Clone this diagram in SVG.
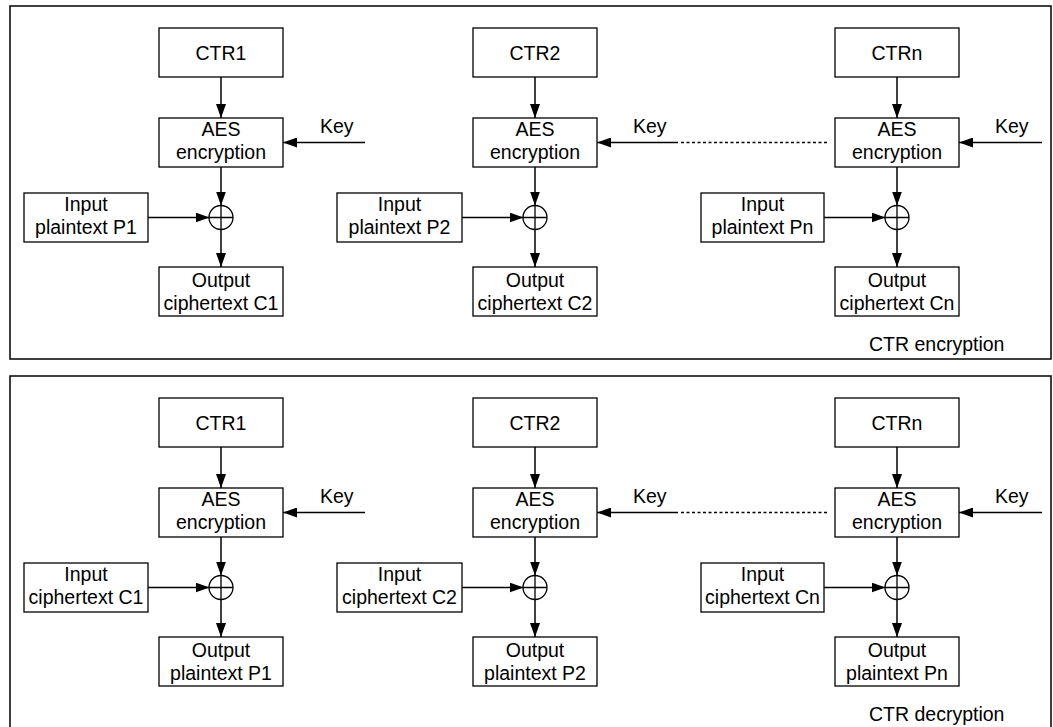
<svg xmlns="http://www.w3.org/2000/svg" width="1053" height="727" viewBox="0 0 1053 727">
  <style>
    .frame { fill: none; stroke: #000; stroke-width: 1.5; }
    .box { fill: #fff; stroke: #000; stroke-width: 1.3; }
    .xor { fill: none; stroke: #000; stroke-width: 1.3; }
    .lbl { font-family: "Liberation Sans", Arial, sans-serif; font-size: 19.5px; fill: #000; text-anchor: middle; }
    .cap { font-family: "Liberation Sans", Arial, sans-serif; font-size: 19.5px; fill: #000; }
    .wire { fill: none; stroke: #000; stroke-width: 1.5; }
    .arrow { marker-end: url(#head); }
    .dots { fill: none; stroke: #000; stroke-width: 1.5; stroke-dasharray: 3 2.5; }
  </style>
  <defs>
    <marker id="head" markerUnits="userSpaceOnUse" markerWidth="14" markerHeight="10" refX="14" refY="5" orient="auto">
      <path d="M0,0 L14,5 L0,10 z" fill="#000"/>
    </marker>
  </defs>
  <rect width="1053" height="727" fill="#fff"/>

  <!-- ===== Encryption panel ===== -->
  <g id="enc-panel">
    <rect class="frame" x="10" y="6" width="1041" height="353"/>
    <text class="cap" x="869" y="351">CTR encryption</text>
  </g>

  <g id="enc-connectors">
    <!-- column 1 -->
    <line class="wire arrow" x1="221" y1="77" x2="221" y2="118"/>
    <line class="wire arrow" x1="221" y1="167" x2="221" y2="205.5"/>
    <line class="wire arrow" x1="148" y1="217.5" x2="209.5" y2="217.5"/>
    <line class="wire arrow" x1="221" y1="229.5" x2="221" y2="267"/>
    <line class="wire arrow" x1="365" y1="142.5" x2="283" y2="142.5"/>
    <text class="cap" x="320" y="133">Key</text>
    <!-- column 2 -->
    <line class="wire arrow" x1="535" y1="77" x2="535" y2="118"/>
    <line class="wire arrow" x1="535" y1="167" x2="535" y2="205.5"/>
    <line class="wire arrow" x1="462" y1="217.5" x2="523.5" y2="217.5"/>
    <line class="wire arrow" x1="535" y1="229.5" x2="535" y2="267"/>
    <line class="wire arrow" x1="678" y1="142.5" x2="597" y2="142.5"/>
    <line class="dots" x1="681" y1="142.5" x2="829" y2="142.5"/>
    <text class="cap" x="633" y="133">Key</text>
    <!-- column n -->
    <line class="wire arrow" x1="897" y1="77" x2="897" y2="118"/>
    <line class="wire arrow" x1="897" y1="167" x2="897" y2="205.5"/>
    <line class="wire arrow" x1="824" y1="217.5" x2="885.5" y2="217.5"/>
    <line class="wire arrow" x1="897" y1="229.5" x2="897" y2="267"/>
    <line class="wire arrow" x1="1042" y1="142.5" x2="959" y2="142.5"/>
    <text class="cap" x="995" y="133">Key</text>
  </g>

  <g id="enc-ctr1"><rect class="box" x="159" y="28" width="124" height="49"/><text class="lbl" x="221" y="59.5">CTR1</text></g>
  <g id="enc-aes1"><rect class="box" x="159" y="118" width="124" height="49"/><text class="lbl" x="221" y="136">AES</text><text class="lbl" x="221" y="159">encryption</text></g>
  <g id="enc-in1"><rect class="box" x="24" y="193" width="124" height="49"/><text class="lbl" x="86" y="211">Input</text><text class="lbl" x="86" y="234">plaintext P1</text></g>
  <g id="enc-xor1"><circle class="xor" cx="221" cy="217.5" r="12"/><path class="xor" d="M209,217.5 H233 M221,205.5 V229.5"/></g>
  <g id="enc-out1"><rect class="box" x="159" y="267" width="124" height="49"/><text class="lbl" x="221" y="287">Output</text><text class="lbl" x="221" y="310">ciphertext C1</text></g>

  <g id="enc-ctr2"><rect class="box" x="473" y="28" width="124" height="49"/><text class="lbl" x="535" y="59.5">CTR2</text></g>
  <g id="enc-aes2"><rect class="box" x="473" y="118" width="124" height="49"/><text class="lbl" x="535" y="136">AES</text><text class="lbl" x="535" y="159">encryption</text></g>
  <g id="enc-in2"><rect class="box" x="337" y="193" width="125" height="49"/><text class="lbl" x="399.5" y="211">Input</text><text class="lbl" x="399.5" y="234">plaintext P2</text></g>
  <g id="enc-xor2"><circle class="xor" cx="535" cy="217.5" r="12"/><path class="xor" d="M523,217.5 H547 M535,205.5 V229.5"/></g>
  <g id="enc-out2"><rect class="box" x="473" y="267" width="124" height="49"/><text class="lbl" x="535" y="287">Output</text><text class="lbl" x="535" y="310">ciphertext C2</text></g>

  <g id="enc-ctrn"><rect class="box" x="835" y="28" width="124" height="49"/><text class="lbl" x="897" y="59.5">CTRn</text></g>
  <g id="enc-aesn"><rect class="box" x="835" y="118" width="124" height="49"/><text class="lbl" x="897" y="136">AES</text><text class="lbl" x="897" y="159">encryption</text></g>
  <g id="enc-inn"><rect class="box" x="701" y="193" width="123" height="49"/><text class="lbl" x="762.5" y="211">Input</text><text class="lbl" x="762.5" y="234">plaintext Pn</text></g>
  <g id="enc-xorn"><circle class="xor" cx="897" cy="217.5" r="12"/><path class="xor" d="M885,217.5 H909 M897,205.5 V229.5"/></g>
  <g id="enc-outn"><rect class="box" x="835" y="267" width="124" height="49"/><text class="lbl" x="897" y="287">Output</text><text class="lbl" x="897" y="310">ciphertext Cn</text></g>

  <!-- ===== Decryption panel (same layout, shifted down) ===== -->
  <g transform="translate(0,370)">
    <g id="dec-panel">
      <rect class="frame" x="10" y="6" width="1041" height="400"/>
      <text class="cap" x="869" y="351">CTR decryption</text>
    </g>

    <g id="dec-connectors">
      <line class="wire arrow" x1="221" y1="77" x2="221" y2="118"/>
      <line class="wire arrow" x1="221" y1="167" x2="221" y2="205.5"/>
      <line class="wire arrow" x1="148" y1="217.5" x2="209.5" y2="217.5"/>
      <line class="wire arrow" x1="221" y1="229.5" x2="221" y2="267"/>
      <line class="wire arrow" x1="365" y1="142.5" x2="283" y2="142.5"/>
      <text class="cap" x="320" y="133">Key</text>
      <line class="wire arrow" x1="535" y1="77" x2="535" y2="118"/>
      <line class="wire arrow" x1="535" y1="167" x2="535" y2="205.5"/>
      <line class="wire arrow" x1="462" y1="217.5" x2="523.5" y2="217.5"/>
      <line class="wire arrow" x1="535" y1="229.5" x2="535" y2="267"/>
      <line class="wire arrow" x1="678" y1="142.5" x2="597" y2="142.5"/>
      <line class="dots" x1="681" y1="142.5" x2="829" y2="142.5"/>
      <text class="cap" x="633" y="133">Key</text>
      <line class="wire arrow" x1="897" y1="77" x2="897" y2="118"/>
      <line class="wire arrow" x1="897" y1="167" x2="897" y2="205.5"/>
      <line class="wire arrow" x1="824" y1="217.5" x2="885.5" y2="217.5"/>
      <line class="wire arrow" x1="897" y1="229.5" x2="897" y2="267"/>
      <line class="wire arrow" x1="1042" y1="142.5" x2="959" y2="142.5"/>
      <text class="cap" x="995" y="133">Key</text>
    </g>

    <g id="dec-ctr1"><rect class="box" x="159" y="28" width="124" height="49"/><text class="lbl" x="221" y="59.5">CTR1</text></g>
    <g id="dec-aes1"><rect class="box" x="159" y="118" width="124" height="49"/><text class="lbl" x="221" y="136">AES</text><text class="lbl" x="221" y="159">encryption</text></g>
    <g id="dec-in1"><rect class="box" x="24" y="193" width="124" height="49"/><text class="lbl" x="86" y="211">Input</text><text class="lbl" x="86" y="234">ciphertext C1</text></g>
    <g id="dec-xor1"><circle class="xor" cx="221" cy="217.5" r="12"/><path class="xor" d="M209,217.5 H233 M221,205.5 V229.5"/></g>
    <g id="dec-out1"><rect class="box" x="159" y="267" width="124" height="49"/><text class="lbl" x="221" y="287">Output</text><text class="lbl" x="221" y="310">plaintext P1</text></g>

    <g id="dec-ctr2"><rect class="box" x="473" y="28" width="124" height="49"/><text class="lbl" x="535" y="59.5">CTR2</text></g>
    <g id="dec-aes2"><rect class="box" x="473" y="118" width="124" height="49"/><text class="lbl" x="535" y="136">AES</text><text class="lbl" x="535" y="159">encryption</text></g>
    <g id="dec-in2"><rect class="box" x="337" y="193" width="125" height="49"/><text class="lbl" x="399.5" y="211">Input</text><text class="lbl" x="399.5" y="234">ciphertext C2</text></g>
    <g id="dec-xor2"><circle class="xor" cx="535" cy="217.5" r="12"/><path class="xor" d="M523,217.5 H547 M535,205.5 V229.5"/></g>
    <g id="dec-out2"><rect class="box" x="473" y="267" width="124" height="49"/><text class="lbl" x="535" y="287">Output</text><text class="lbl" x="535" y="310">plaintext P2</text></g>

    <g id="dec-ctrn"><rect class="box" x="835" y="28" width="124" height="49"/><text class="lbl" x="897" y="59.5">CTRn</text></g>
    <g id="dec-aesn"><rect class="box" x="835" y="118" width="124" height="49"/><text class="lbl" x="897" y="136">AES</text><text class="lbl" x="897" y="159">encryption</text></g>
    <g id="dec-inn"><rect class="box" x="701" y="193" width="123" height="49"/><text class="lbl" x="762.5" y="211">Input</text><text class="lbl" x="762.5" y="234">ciphertext Cn</text></g>
    <g id="dec-xorn"><circle class="xor" cx="897" cy="217.5" r="12"/><path class="xor" d="M885,217.5 H909 M897,205.5 V229.5"/></g>
    <g id="dec-outn"><rect class="box" x="835" y="267" width="124" height="49"/><text class="lbl" x="897" y="287">Output</text><text class="lbl" x="897" y="310">plaintext Pn</text></g>
  </g>
</svg>
